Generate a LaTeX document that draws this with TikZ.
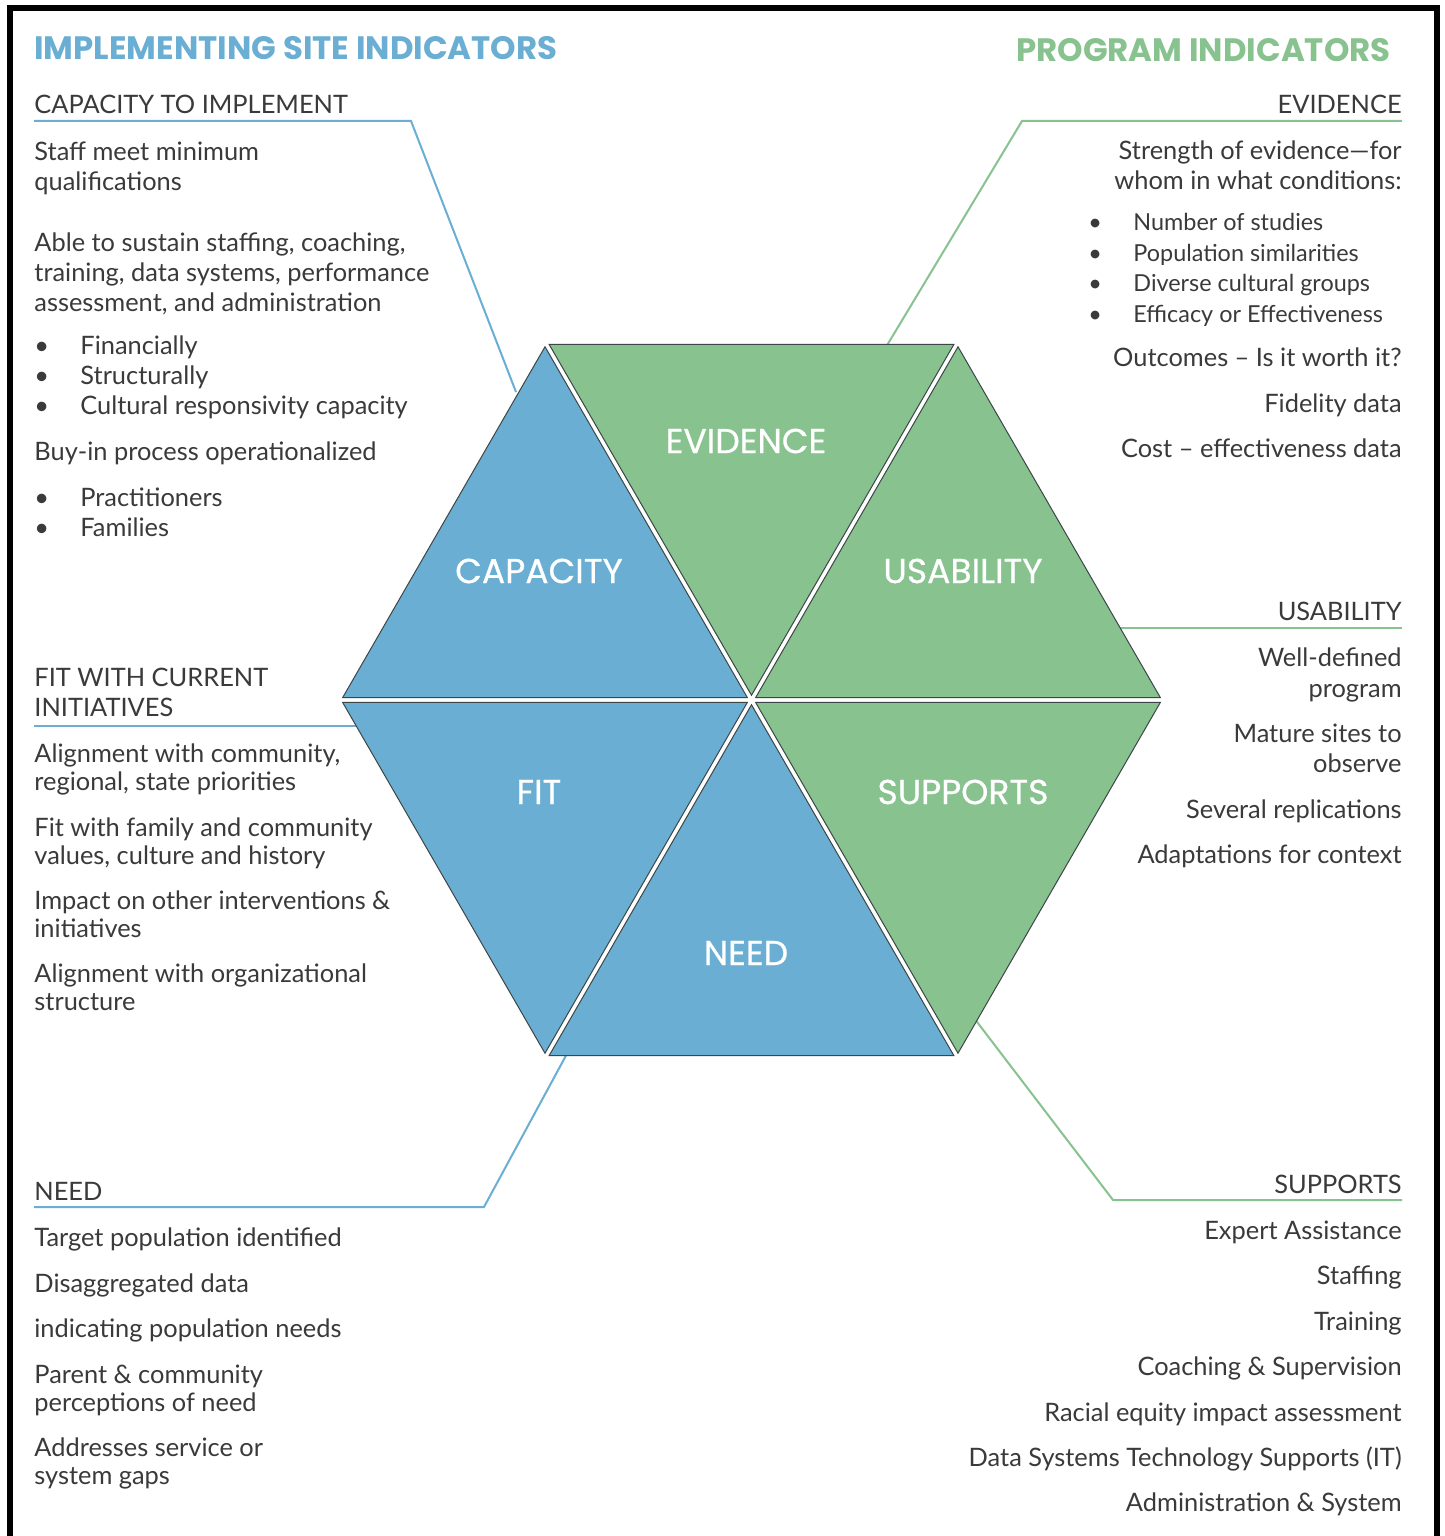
\documentclass[tikz,border=0pt]{standalone}
\usepackage{fontspec}
\setmainfont{Lato}
\newfontfamily\headfont{Poppins}
\newfontfamily\labelfont[FakeBold=0.6]{Poppins}
\usetikzlibrary{calc}
\definecolor{tblue}{HTML}{6AAFD3}
\definecolor{tgreen}{HTML}{87C28F}
\definecolor{ttext}{HTML}{3A3A3A}
\definecolor{tedge}{HTML}{3C4646}
\newcommand\hextri[5]{%
  \coordinate (g#5) at (barycentric cs:#2=1,#3=1,#4=1);
  \filldraw[tri, fill=#1] ($(g#5)!0.98!(#2)$) -- ($(g#5)!0.98!(#3)$) -- ($(g#5)!0.98!(#4)$) -- cycle;}
\begin{document}
\begin{tikzpicture}[x=0.5pt,y=-0.5pt,
  body/.style={font=\fontsize{12.7}{15}\selectfont, text=ttext, inner sep=0pt, text height=9pt, text depth=2.8pt, yshift=-1.5pt},
  small/.style={body, font=\fontsize{11.7}{14}\selectfont},
  head/.style={font=\fontsize{12.7}{15}\selectfont, text=ttext, inner sep=0pt, text height=9pt, text depth=2.8pt, yshift=-1.5pt},
  title/.style={font=\headfont\bfseries\fontsize{16.2}{19}\selectfont, inner sep=0pt},
  tri/.style={draw=tedge, line width=0.5pt, line join=miter},
  tlabel/.style={font=\labelfont\fontsize{17.3}{20}\selectfont, text=white, inner sep=0pt},
  link/.style={line width=1pt}]
\useasboundingbox (0,0) rectangle (1445,1536);
\fill[white] (0,0) rectangle (1445,1536);
% frame
\draw[line width=3pt, line join=miter] (10,1540) -- (10,8) -- (1437,8) -- (1437,1540);

% titles
\node[title, text=tblue, anchor=west] (titleL) at (34,48) {IMPLEMENTING SITE INDICATORS};
\node[title, text=tgreen, anchor=east] (titleR) at (1391,50) {PROGRAM INDICATORS};

% hexagon coordinates
\coordinate (O) at (751.5,700);
\coordinate (V0) at (1164.5,700);
\coordinate (V1) at (958,342);
\coordinate (V2) at (545,342);
\coordinate (V3) at (338.5,700);
\coordinate (V4) at (545,1058);
\coordinate (V5) at (958,1058);

% connectors (drawn beneath triangles)
\coordinate (capA) at (34,121); \coordinate (capB) at (411,121); \coordinate (capC) at (516,392);
\draw[link, tblue] (capA) -- (capB) -- (capC);
\coordinate (fitA) at (34,726); \coordinate (fitB) at (356,726);
\draw[link, tblue] (fitA) -- (fitB);
\coordinate (needA) at (34,1207); \coordinate (needB) at (484,1207); \coordinate (needC) at (569,1050);
\draw[link, tblue] (needA) -- (needB) -- (needC);
\coordinate (evA) at (1402,121); \coordinate (evB) at (1022,121); \coordinate (evC) at (886,347);
\draw[link, tgreen] (evA) -- (evB) -- (evC);
\coordinate (usA) at (1402,628); \coordinate (usB) at (1118,628);
\draw[link, tgreen] (usA) -- (usB);
\coordinate (suA) at (1402,1200); \coordinate (suB) at (1113,1200); \coordinate (suC) at (974,1018);
\draw[link, tgreen] (suA) -- (suB) -- (suC);

% triangles
\hextri{tblue}{O}{V3}{V2}{cap}
\hextri{tgreen}{O}{V2}{V1}{evi}
\hextri{tgreen}{O}{V1}{V0}{usa}
\hextri{tgreen}{O}{V0}{V5}{sup}
\hextri{tblue}{O}{V5}{V4}{nee}
\hextri{tblue}{O}{V4}{V3}{fit}

\node[tlabel] (lEvi) at (746,441) {EVIDENCE};
\node[tlabel] (lCap) at (539,571) {CAPACITY};
\node[tlabel] (lUsa) at (963,571) {USABILITY};
\node[tlabel] (lFit) at (539,792) {FIT};
\node[tlabel] (lSup) at (963,792) {SUPPORTS};
\node[tlabel] (lNee) at (746,953) {NEED};

% left headers
\node[head, anchor=west] (hCap) at (34,104) {CAPACITY TO IMPLEMENT};
\node[head, anchor=west] (hFit1) at (34,677) {FIT WITH CURRENT};
\node[head, anchor=west] (hFit2) at (34,707) {INITIATIVES};
\node[head, anchor=west] (hNeed) at (34,1191) {NEED};
% right headers
\node[head, anchor=east] (hEvi) at (1402,104) {EVIDENCE};
\node[head, anchor=east] (hUsa) at (1402,611) {USABILITY};
\node[head, anchor=east] (hSup) at (1402,1184) {SUPPORTS};

% left body lines
\foreach \lbl/\yy [count=\i] in {
  {Staff meet minimum}/151, {qualifications}/181,
  {Able to sustain staffing, coaching,}/242, {training, data systems, performance}/272,
  {assessment, and administration}/302,
  {Buy-in process operationalized}/451,
  {Alignment with community,}/753, {regional, state priorities}/781,
  {Fit with family and community}/827, {values, culture and history}/855,
  {Impact on other interventions \&}/900, {initiatives}/928,
  {Alignment with organizational}/973, {structure}/1001,
  {Target population identified}/1237,
  {Disaggregated data}/1283,
  {indicating population needs}/1328,
  {Parent \& community}/1374, {perceptions of need}/1402,
  {Addresses service or}/1447, {system gaps}/1475}
  \node[body, anchor=west] (lt\i) at (34,\yy) {\lbl};

% left bullets
\foreach \lbl/\yy [count=\i] in {
  {Financially}/345, {Structurally}/375, {Cultural responsivity capacity}/405,
  {Practitioners}/497, {Families}/527}
  {\node[body, anchor=west] (lbd\i) at (34,\yy) {•};
   \node[body, anchor=west] (lbt\i) at (80,\yy) {\lbl};}

% right body lines
\foreach \lbl/\yy [count=\i] in {
  {Strength of evidence—for}/150, {whom in what conditions:}/180,
  {Outcomes – Is it worth it?}/357,
  {Fidelity data}/403,
  {Cost – effectiveness data}/448,
  {Well-defined}/657, {program}/688,
  {Mature sites to}/733, {observe}/763,
  {Several replications}/809,
  {Adaptations for context}/854,
  {Expert Assistance}/1230, {Staffing}/1275, {Training}/1321,
  {Coaching \& Supervision}/1366,
  {Racial equity impact assessment}/1412,
  {Data Systems Technology Supports (IT)}/1457,
  {Administration \& System}/1502}
  \node[body, anchor=east] (rt\i) at (1402,\yy) {\lbl};

% right bullets
\foreach \lbl/\yy [count=\i] in {
  {Number of studies}/221, {Population similarities}/252,
  {Diverse cultural groups}/282, {Efficacy or Effectiveness}/313}
  {\node[small, anchor=west] (rbd\i) at (1088,\yy) {•};
   \node[small, anchor=west] (rbt\i) at (1133,\yy) {\lbl};}
\end{tikzpicture}
\end{document}
